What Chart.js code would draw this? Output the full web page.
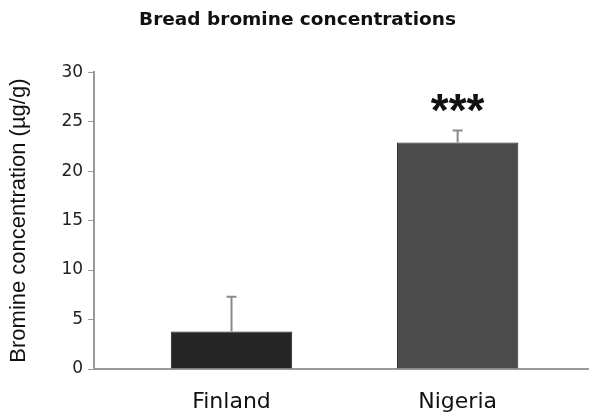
<!DOCTYPE html>
<html>
<head>
<meta charset="utf-8">
<script src="https://cdn.jsdelivr.net/npm/chart.js@4/dist/chart.umd.min.js"></script>
<style>
  html, body { margin: 0; padding: 0; background: #fff; }
  #wrap { width: 589px; height: 416px; }
</style>
</head>
<body>
<div id="wrap"><canvas id="grafico" width="589" height="416"></canvas></div>
<script>
const categorias = ['Finland', 'Nigeria'];
const medias = [3.8, 22.9];
const errores = [3.5, 1.2];
const significancia = ['', '***'];
const alturaSignificancia = 27.2; // centro del texto, en unidades del eje y
const coloresBarra = ['#262626', '#4b4b4b'];

// barras en posiciones 1, 2 sobre una escala lineal
const puntos = categorias.map((c, i) => ({ x: i + 1, y: medias[i] }));

const barrasError = {
  id: 'barrasError',
  afterDatasetsDraw(chart) {
    const { ctx, scales: { y } } = chart;
    const meta = chart.getDatasetMeta(0);
    ctx.save();
    meta.data.forEach((bar, i) => {
      const yTop = y.getPixelForValue(medias[i] + errores[i]);
      const yBar = y.getPixelForValue(medias[i]);
      ctx.strokeStyle = '#8a8a8a';
      ctx.lineWidth = 2;
      ctx.beginPath();
      ctx.moveTo(bar.x, yBar);
      ctx.lineTo(bar.x, yTop);
      ctx.moveTo(bar.x - 5, yTop);
      ctx.lineTo(bar.x + 5, yTop);
      ctx.stroke();

      if (significancia[i]) {
        ctx.fillStyle = '#111';
        ctx.font = 'bold 46px "Liberation Sans"';
        ctx.textAlign = 'center';
        ctx.textBaseline = 'alphabetic';
        // el asterisco queda ~0.57em por encima de la linea base
        ctx.fillText(significancia[i], bar.x, y.getPixelForValue(alturaSignificancia) + 26);
      }
    });
    ctx.restore();
  }
};

new Chart(document.getElementById('grafico'), {
  type: 'bar',
  data: {
    datasets: [{
      data: puntos,
      backgroundColor: coloresBarra,
      borderColor: '#1c1c1c',
      borderWidth: 1,
      barPercentage: 0.537,
      categoryPercentage: 1
    }]
  },
  plugins: [barrasError],
  options: {
    responsive: false,
    animation: false,
    layout: { padding: { left: 6, right: 0, top: 0, bottom: 0 } },
    plugins: {
      legend: { display: false },
      tooltip: { enabled: false },
      title: {
        display: true,
        text: 'Bread bromine concentrations',
        color: '#111',
        font: { family: 'DejaVu Sans', size: 18.5, weight: 'bold' },
        padding: { top: 9, bottom: 41 }
      }
    },
    scales: {
      x: {
        type: 'linear',
        offset: false,
        min: 0.392,
        max: 2.581,
        afterBuildTicks: (scale) => {
          scale.ticks = categorias.map((c, i) => ({ value: i + 1 }));
        },
        afterFit: (scale) => {
          scale.height = 47;
        },
        ticks: {
          callback: (v) => categorias[v - 1] || '',
          color: '#111',
          font: { family: 'DejaVu Sans', size: 22, lineHeight: 1 },
          padding: 22,
          autoSkip: false,
          maxRotation: 0
        },
        grid: { display: false, offset: false, drawTicks: false, tickLength: 0 },
        border: { display: true, color: '#9a9a9a', width: 2 }
      },
      y: {
        min: 0,
        max: 30,
        ticks: {
          stepSize: 5,
          color: '#222',
          font: { family: 'DejaVu Sans', size: 17 },
          padding: 5
        },
        grid: { drawOnChartArea: false, drawTicks: true, tickLength: 6, color: '#9a9a9a' },
        border: { display: true, color: '#9a9a9a', width: 2 },
        title: {
          display: true,
          text: 'Bromine concentration (µg/g)',
          color: '#111',
          font: { family: 'Liberation Sans', size: 22 },
          padding: { top: 0, bottom: 24 }
        }
      }
    }
  }
});
</script>
</body>
</html>
